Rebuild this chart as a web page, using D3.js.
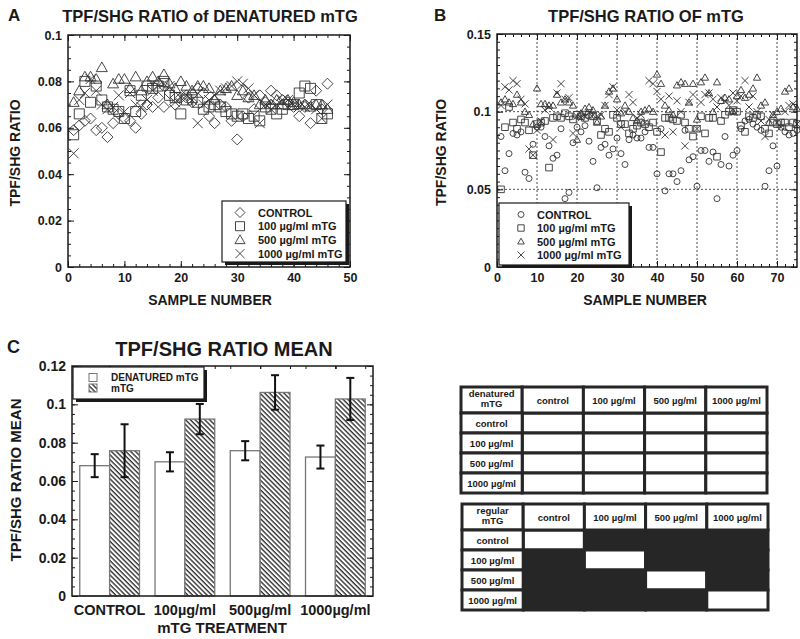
<!DOCTYPE html>
<html>
<head>
<meta charset="utf-8">
<script src="https://cdnjs.cloudflare.com/ajax/libs/d3/7.8.5/d3.min.js"></script>
<style>
body { margin: 0; background: #fff; }
text { font-family: "Liberation Sans", Arial, sans-serif; font-weight: bold; fill: #1a1a1a; }
</style>
</head>
<body>
<svg id="fig" width="800" height="639"></svg>
<script>
// ---- data ----
var seriesNames = ["CONTROL", "100 µg/ml mTG", "500 µg/ml mTG", "1000 µg/ml mTG"];

// panel A: denatured mTG, samples 1..46
var denControl = [0.059,0.061,0.063,0.064,0.059,0.060,0.056,0.062,0.066,0.064,0.063,0.060,0.066,0.070,0.069,0.073,0.069,0.075,0.070,0.073,
  0.074,0.071,0.077,0.075,0.065,0.062,0.070,0.069,0.063,0.055,0.065,0.073,0.068,0.074,0.071,0.076,0.074,0.072,0.071,0.069,
  0.065,0.069,0.062,0.076,0.068,0.079];
var den100 = [0.057,0.066,0.080,0.071,0.078,0.072,0.069,0.068,0.067,0.064,0.076,0.067,0.074,0.078,0.077,0.078,0.080,0.074,0.073,0.066,
  0.072,0.073,0.071,0.068,0.069,0.070,0.069,0.067,0.066,0.065,0.066,0.064,0.065,0.063,0.069,0.068,0.066,0.068,0.070,0.070,
  0.075,0.078,0.077,0.070,0.064,0.066];
var den500 = [0.071,0.076,0.082,0.082,0.081,0.086,0.070,0.079,0.081,0.081,0.077,0.082,0.076,0.080,0.082,0.080,0.083,0.079,0.077,0.080,
  0.078,0.076,0.078,0.078,0.077,0.072,0.076,0.077,0.078,0.074,0.076,0.073,0.074,0.070,0.072,0.070,0.072,0.070,0.072,0.071,
  0.070,0.070,0.069,0.070,0.070,0.068];
var den1000 = [0.049,0.072,0.075,0.081,0.076,0.070,0.068,0.069,0.074,0.067,0.075,0.070,0.069,0.072,0.076,0.078,0.079,0.078,0.071,0.073,
  0.074,0.072,0.062,0.070,0.072,0.074,0.076,0.077,0.078,0.080,0.079,0.077,0.074,0.062,0.070,0.068,0.070,0.072,0.072,0.070,
  0.070,0.069,0.070,0.068,0.064,0.070];

// panel B: regular mTG, samples 1..75
var regControl = [0.084,0.062,0.073,0.086,0.085,0.087,0.061,0.057,0.079,0.090,0.090,0.084,0.078,0.070,0.072,0.089,0.044,0.048,0.080,0.090,
  0.087,0.091,0.081,0.068,0.051,0.077,0.079,0.072,0.076,0.083,0.073,0.066,0.082,0.085,0.083,0.083,0.087,0.077,0.077,0.060,
  0.089,0.049,0.060,0.060,0.055,0.062,0.088,0.069,0.071,0.052,0.075,0.075,0.068,0.074,0.044,0.066,0.084,0.065,0.072,0.075,
  0.089,0.094,0.095,0.092,0.090,0.088,0.052,0.062,0.078,0.065,0.090,0.087,0.085,0.086,0.088];
var reg100 = [0.050,0.090,0.103,0.093,0.089,0.095,0.093,0.088,0.072,0.092,0.093,0.094,0.064,0.096,0.097,0.096,0.099,0.097,0.095,0.098,
  0.097,0.096,0.098,0.097,0.094,0.085,0.089,0.087,0.098,0.096,0.092,0.092,0.086,0.089,0.091,0.093,0.092,0.090,0.093,0.087,
  0.074,0.096,0.096,0.095,0.094,0.098,0.093,0.089,0.084,0.089,0.097,0.086,0.096,0.096,0.071,0.094,0.098,0.100,0.101,0.100,
  0.091,0.087,0.097,0.096,0.098,0.097,0.089,0.086,0.093,0.092,0.093,0.093,0.090,0.093,0.092];
var reg500 = [0.106,0.108,0.106,0.105,0.111,0.106,0.100,0.098,0.092,0.115,0.105,0.105,0.104,0.104,0.111,0.106,0.108,0.106,0.104,0.082,
  0.099,0.102,0.103,0.101,0.093,0.097,0.104,0.113,0.115,0.108,0.099,0.104,0.100,0.096,0.094,0.100,0.101,0.102,0.100,0.124,
  0.118,0.104,0.101,0.098,0.117,0.119,0.118,0.106,0.118,0.095,0.119,0.122,0.112,0.100,0.119,0.107,0.109,0.108,0.100,0.110,
  0.114,0.109,0.111,0.115,0.122,0.104,0.106,0.093,0.098,0.100,0.102,0.113,0.115,0.103,0.102];
var reg1000 = [0.104,0.116,0.114,0.120,0.118,0.108,0.105,0.076,0.072,0.088,0.094,0.101,0.103,0.082,0.112,0.118,0.108,0.109,0.086,0.097,
  0.096,0.097,0.099,0.098,0.097,0.098,0.104,0.111,0.116,0.101,0.090,0.100,0.111,0.106,0.096,0.098,0.093,0.120,0.118,0.113,
  0.108,0.085,0.110,0.087,0.107,0.100,0.078,0.106,0.111,0.089,0.106,0.111,0.112,0.108,0.103,0.109,0.107,0.104,0.112,0.107,
  0.110,0.120,0.103,0.110,0.100,0.094,0.084,0.095,0.098,0.093,0.090,0.100,0.104,0.105,0.092];

// panel C: means and error bars
var treatments = ["CONTROL", "100µg/ml", "500µg/ml", "1000µg/ml"];
var barNames = ["DENATURED mTG", "mTG"];
var denMean = [0.068, 0.070, 0.0758, 0.0725];
var denErr = [0.006, 0.005, 0.005, 0.006];
var regMean = [0.0758, 0.0923, 0.1062, 0.1028];
var regErr = [0.0138, 0.0079, 0.009, 0.011];

// tick labels
var aXTicks = [0, 10, 20, 30, 40, 50];
var aYTicks = [0, 0.02, 0.04, 0.06, 0.08, 0.1];
var bXTicks = [0, 10, 20, 30, 40, 50, 60, 70];
var bYTicks = [0, 0.05, 0.1, 0.15];
var cYTicks = [0, 0.02, 0.04, 0.06, 0.08, 0.1, 0.12];

// tables
var tableCols = ["control", "100 µg/ml", "500 µg/ml", "1000 µg/ml"];
var denSig = [[0,0,0,0],[0,0,0,0],[0,0,0,0],[0,0,0,0]];
var regSig = [[0,1,1,1],[1,0,1,1],[1,1,0,1],[1,1,1,0]];

var svg = d3.select("#fig");
var ink = "#1a1a1a";
var fmt = d3.format("~g");

// hollow marker shapes, s = half size
var shapes = {
  diamond: function(s) { return "M0," + (-s) + "L" + s + ",0L0," + s + "L" + (-s) + ",0Z"; },
  circle: function(s) { return "M" + s + ",0A" + s + "," + s + " 0 1,1 " + (-s) + ",0A" + s + "," + s + " 0 1,1 " + s + ",0Z"; },
  square: function(s) { return "M" + (-s) + "," + (-s) + "H" + s + "V" + s + "H" + (-s) + "Z"; },
  triangle: function(s) { return "M0," + (-s) + "L" + s + "," + (s * 0.75) + "L" + (-s) + "," + (s * 0.75) + "Z"; },
  cross: function(s) { return "M" + (-s) + "," + (-s) + "L" + s + "," + s + "M" + (-s) + "," + s + "L" + s + "," + (-s); }
};

function frameAxes(x, y, box, xTicks, yTicks, xMinor, yMinor, labSize) {
  var g = svg.append("g");
  // minor ticks, all four sides
  g.append("g").attr("transform", "translate(0," + box.bottom + ")")
    .call(d3.axisBottom(x).tickValues(xMinor).tickSize(-3).tickFormat(""));
  g.append("g").attr("transform", "translate(0," + box.top + ")")
    .call(d3.axisTop(x).tickValues(xMinor).tickSize(-3).tickFormat(""));
  g.append("g").attr("transform", "translate(" + box.left + ",0)")
    .call(d3.axisLeft(y).tickValues(yMinor).tickSize(-3).tickFormat(""));
  g.append("g").attr("transform", "translate(" + box.right + ",0)")
    .call(d3.axisRight(y).tickValues(yMinor).tickSize(-3).tickFormat(""));
  // major ticks
  if (xTicks) {
    g.append("g").attr("class", "lab").attr("transform", "translate(0," + box.bottom + ")")
      .call(d3.axisBottom(x).tickValues(xTicks).tickSize(-6).tickPadding(6).tickFormat(fmt));
    g.append("g").attr("transform", "translate(0," + box.top + ")")
      .call(d3.axisTop(x).tickValues(xTicks).tickSize(-6).tickFormat(""));
  }
  g.append("g").attr("class", "lab").attr("transform", "translate(" + box.left + ",0)")
    .call(d3.axisLeft(y).tickValues(yTicks).tickSize(-6).tickPadding(6).tickFormat(fmt));
  g.append("g").attr("transform", "translate(" + box.right + ",0)")
    .call(d3.axisRight(y).tickValues(yTicks).tickSize(-6).tickFormat(""));
  g.selectAll(".domain").remove();
  g.selectAll(".tick line").attr("stroke", ink).attr("stroke-width", 1);
  g.selectAll(".lab text").style("font-size", labSize).attr("fill", ink);
  return g;
}

function frame(box) {
  svg.append("rect").attr("x", box.left).attr("y", box.top)
    .attr("width", box.right - box.left).attr("height", box.bottom - box.top)
    .attr("fill", "none").attr("stroke", ink).attr("stroke-width", 1.5);
}

function legendBox(x0, y0, w, h) {
  svg.append("rect").attr("x", x0 + 3).attr("y", y0 + 3).attr("width", w).attr("height", h).attr("fill", ink);
  svg.append("rect").attr("x", x0).attr("y", y0).attr("width", w).attr("height", h)
    .attr("fill", "#fff").attr("stroke", ink).attr("stroke-width", 1.2);
}

function scatterPanel(o) {
  var x = d3.scaleLinear().domain([0, o.xMax]).range([o.box.left, o.box.right]);
  var y = d3.scaleLinear().domain([0, o.yMax]).range([o.box.bottom, o.box.top]);

  if (o.grid) {
    var gg = svg.append("g").attr("stroke", "#222").attr("stroke-dasharray", "2,2").attr("stroke-width", 0.8);
    gg.selectAll(".vx").data(o.xTicks.slice(1)).join("line")
      .attr("x1", x).attr("x2", x).attr("y1", o.box.top).attr("y2", o.box.bottom);
    gg.selectAll(".hy").data(o.yTicks.slice(1, -1)).join("line")
      .attr("y1", y).attr("y2", y).attr("x1", o.box.left).attr("x2", o.box.right);
  }

  frameAxes(x, y, o.box, o.xTicks, o.yTicks, d3.range(0, o.xMax + 0.01, 2), d3.range(0, o.yMax + 1e-9, 0.005), "12.5px");

  o.series.forEach(function(vals, k) {
    svg.append("g").selectAll("path").data(vals).join("path")
      .attr("transform", function(d, i) { return "translate(" + x(i + 1) + "," + y(d) + ")"; })
      .attr("d", shapes[o.shapes[k]](o.sizes[k]))
      .attr("fill", "none").attr("stroke", "#333").attr("stroke-width", 0.9);
  });
  frame(o.box);

  // legend
  var L = o.legend;
  legendBox(L.x, L.y, L.w, L.h);
  seriesNames.forEach(function(name, k) {
    var cy = L.y + L.first + k * L.step;
    svg.append("path").attr("transform", "translate(" + L.sx + "," + cy + ")")
      .attr("d", shapes[o.shapes[k]](L.sizes[k]))
      .attr("fill", "none").attr("stroke", "#333").attr("stroke-width", 0.9);
    svg.append("text").attr("x", L.tx).attr("y", cy + 4).style("font-size", "11px").text(name);
  });

  // titles
  svg.append("text").attr("x", o.titleX).attr("y", 22).attr("text-anchor", "middle")
    .style("font-size", "16.5px").text(o.title);
  svg.append("text").attr("x", o.letterX).attr("y", 21).style("font-size", "17px").text(o.letter);
  svg.append("text").attr("x", (o.box.left + o.box.right) / 2 + o.xtOff).attr("y", 305)
    .attr("text-anchor", "middle").style("font-size", "14px").text("SAMPLE NUMBER");
  svg.append("text").attr("transform", "translate(" + o.ytX + "," + ((o.box.top + o.box.bottom) / 2 + 2) + ") rotate(-90)")
    .attr("text-anchor", "middle").style("font-size", "14px").text("TPF/SHG RATIO");
}

// ---- panel A ----
scatterPanel({
  box: {left: 68, right: 350, top: 35, bottom: 267},
  xMax: 50, yMax: 0.1, xTicks: aXTicks, yTicks: aYTicks,
  series: [denControl, den100, den500, den1000],
  shapes: ["diamond", "square", "triangle", "cross"], sizes: [5.5, 5, 5.5, 5],
  legend: {x: 222, y: 201, w: 124, h: 61, first: 11.5, step: 13.7, sx: 240, tx: 258, sizes: [5, 4.5, 5, 4.5]},
  title: "TPF/SHG RATIO of DENATURED mTG", titleX: 210, letter: "A", letterX: 8,
  xtOff: 1, ytX: 20
});

// ---- panel B ----
scatterPanel({
  box: {left: 497, right: 797, top: 34, bottom: 267},
  xMax: 75, yMax: 0.15, xTicks: bXTicks, yTicks: bYTicks, grid: true,
  series: [regControl, reg100, reg500, reg1000],
  shapes: ["circle", "square", "triangle", "cross"], sizes: [3, 3.3, 3.6, 3.6],
  legend: {x: 499, y: 203, w: 130, h: 62, first: 11.5, step: 13.5, sx: 521, tx: 537, sizes: [3, 3.2, 3.3, 3.5]},
  title: "TPF/SHG RATIO OF mTG", titleX: 646, letter: "B", letterX: 434,
  xtOff: -2, ytX: 446
});

// ---- panel C ----
(function() {
  var box = {left: 72, right: 373, top: 366, bottom: 596};
  var x0 = d3.scaleBand().domain(treatments).range([box.left, box.right]);
  var x1 = d3.scaleBand().domain(barNames).range([0, x0.bandwidth()]).paddingOuter(0.26);
  var y = d3.scaleLinear().domain([0, 0.12]).range([box.bottom, box.top]);

  var defs = svg.append("defs");
  var pat = defs.append("pattern").attr("id", "hatch").attr("patternUnits", "userSpaceOnUse")
    .attr("width", 3.4).attr("height", 3.4).attr("patternTransform", "rotate(-45)");
  pat.append("rect").attr("width", 3.4).attr("height", 3.4).attr("fill", "#fff");
  pat.append("line").attr("x1", 1).attr("x2", 1).attr("y1", 0).attr("y2", 3.4)
    .attr("stroke", "#222").attr("stroke-width", 1.3);

  var groups = [
    {name: barNames[0], mean: denMean, err: denErr, fill: "#fff"},
    {name: barNames[1], mean: regMean, err: regErr, fill: "url(#hatch)"}
  ];

  var xq = [];
  treatments.forEach(function(t) {
    xq.push(x0(t) + x0.bandwidth() / 2);
    barNames.forEach(function(b) { xq.push(x0(t) + x1(b)); xq.push(x0(t) + x1(b) + x1.bandwidth()); });
  });
  var g = svg.append("g");
  g.append("g").attr("transform", "translate(0," + box.top + ")")
    .call(d3.axisTop(d3.scaleIdentity()).tickValues(xq).tickSize(-3).tickFormat(""));
  frameAxes(d3.scaleIdentity(), y, box, null, cYTicks, [], d3.range(0, 0.12 + 1e-9, 0.005), "14px");
  g.selectAll(".domain").remove();
  g.selectAll(".tick line").attr("stroke", ink);

  groups.forEach(function(s) {
    var bars = svg.append("g");
    bars.selectAll("rect").data(treatments).join("rect")
      .attr("x", function(t) { return x0(t) + x1(s.name); })
      .attr("width", x1.bandwidth())
      .attr("y", function(t, i) { return y(s.mean[i]); })
      .attr("height", function(t, i) { return y(0) - y(s.mean[i]); })
      .attr("fill", s.fill).attr("stroke", "#777").attr("stroke-width", 1.3);
    var eb = svg.append("g").attr("stroke", "#111").attr("stroke-width", 2);
    treatments.forEach(function(t, i) {
      var cx = x0(t) + x1(s.name) + x1.bandwidth() / 2;
      var lo = y(s.mean[i] - s.err[i]), hi = y(s.mean[i] + s.err[i]);
      eb.append("line").attr("x1", cx).attr("x2", cx).attr("y1", lo).attr("y2", hi);
      eb.append("line").attr("x1", cx - 4).attr("x2", cx + 4).attr("y1", lo).attr("y2", lo);
      eb.append("line").attr("x1", cx - 4).attr("x2", cx + 4).attr("y1", hi).attr("y2", hi);
    });
  });
  frame(box);

  svg.append("g").selectAll("text").data(treatments).join("text")
    .attr("x", function(t) { return x0(t) + x0.bandwidth() / 2; }).attr("y", 615)
    .attr("text-anchor", "middle").style("font-size", "14.5px").text(function(t) { return t; });
  svg.append("text").attr("x", 222).attr("y", 633).attr("text-anchor", "middle")
    .style("font-size", "15px").text("mTG TREATMENT");
  svg.append("text").attr("transform", "translate(21,480) rotate(-90)").attr("text-anchor", "middle")
    .style("font-size", "15px").text("TPF/SHG RATIO MEAN");
  svg.append("text").attr("x", 224).attr("y", 356).attr("text-anchor", "middle")
    .style("font-size", "20px").text("TPF/SHG RATIO MEAN");
  svg.append("text").attr("x", 7).attr("y", 353).style("font-size", "18px").text("C");

  legendBox(73, 367, 131, 32);
  groups.forEach(function(s, k) {
    var cy = 377.5 + k * 10.5;
    svg.append("rect").attr("x", 89).attr("y", cy - 4).attr("width", 8).attr("height", 8)
      .attr("fill", s.fill).attr("stroke", "#777").attr("stroke-width", 1);
    svg.append("text").attr("x", 111).attr("y", cy + 3.5).style("font-size", "10px").text(s.name);
  });
})();

// ---- significance tables ----
function drawTable(left, top, corner, sig) {
  var colX = d3.scaleBand().domain(["head"].concat(tableCols)).range([left, left + 306]);
  var headH = 26, rowH = 20;
  var rowY = d3.scaleBand().domain(tableCols).range([top + headH, top + headH + rowH * 4]);
  var g = svg.append("g");
  var cells = [];
  sig.forEach(function(row, r) {
    row.forEach(function(v, c) { cells.push({r: tableCols[r], c: tableCols[c], v: v}); });
  });
  g.selectAll(".cell").data(cells).join("rect")
    .attr("x", function(d) { return colX(d.c); }).attr("y", function(d) { return rowY(d.r); })
    .attr("width", colX.bandwidth()).attr("height", rowH)
    .attr("fill", function(d) { return d.v ? "#262626" : "#fff"; })
    .attr("stroke", "#262626").attr("stroke-width", 3);
  // header row + label column
  g.selectAll(".hc").data(["head"].concat(tableCols)).join("rect")
    .attr("x", colX).attr("y", top).attr("width", colX.bandwidth()).attr("height", headH)
    .attr("fill", "#fff").attr("stroke", "#262626").attr("stroke-width", 3);
  g.selectAll(".hr").data(tableCols).join("rect")
    .attr("x", colX("head")).attr("y", rowY).attr("width", colX.bandwidth()).attr("height", rowH)
    .attr("fill", "#fff").attr("stroke", "#262626").attr("stroke-width", 3);
  g.selectAll(".ht").data(tableCols).join("text")
    .attr("x", function(c) { return colX(c) + colX.bandwidth() / 2; }).attr("y", top + headH / 2 + 3.5)
    .attr("text-anchor", "middle").style("font-size", "9.5px").text(function(c) { return c; });
  g.selectAll(".rt").data(tableCols).join("text")
    .attr("x", colX("head") + colX.bandwidth() / 2).attr("y", function(r) { return rowY(r) + rowH / 2 + 3.5; })
    .attr("text-anchor", "middle").style("font-size", "9.5px").text(function(r) { return r; });
  corner.forEach(function(line, i) {
    g.append("text").attr("x", colX("head") + colX.bandwidth() / 2).attr("y", top + 10 + i * 10)
      .attr("text-anchor", "middle").style("font-size", "9.5px").text(line);
  });
}

drawTable(461, 387, ["denatured", "mTG"], denSig);
drawTable(462, 504, ["regular", "mTG"], regSig);
</script>
</body>
</html>
